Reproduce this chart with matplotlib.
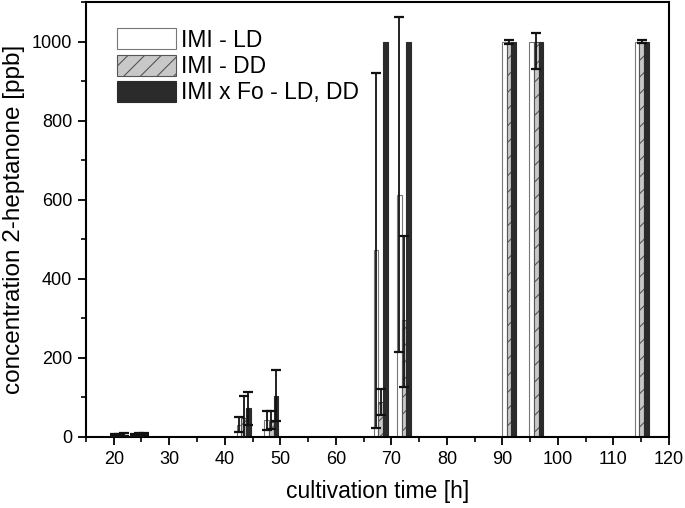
import numpy as np
import matplotlib.pyplot as plt
from matplotlib.ticker import MultipleLocator

plt.rcParams['font.family'] = ['Liberation Sans', 'DejaVu Sans']
plt.rcParams['hatch.linewidth'] = 0.8
plt.rcParams['hatch.color'] = '#333333'

# sampling times [h] (centre of each group of bars)
times = [21.0, 24.6, 43.4, 48.4, 68.1, 72.3, 91.2, 96.1, 115.1]

# IMI - LD
ld_mean = [4, 5, 30, 42, 472, 612, 1000, 1000, 1000]
ld_err_lo = [3, 3, 18, 24, 450, 397, 0, 0, 0]
ld_err_hi = [3, 3, 20, 24, 449, 451, 0, 0, 0]

# IMI - DD
dd_mean = [5, 6, 48, 38, 88, 295, 1000, 1000, 1000]
dd_err_lo = [3, 3, 50, 18, 33, 168, 5, 69, 3]
dd_err_hi = [3, 3, 55, 28, 32, 213, 5, 21, 3]

# IMI x Fo - LD, DD
fo_mean = [6, 7, 72, 103, 1000, 1000, 1000, 1000, 1000]
fo_err_lo = [3, 3, 42, 64, 0, 0, 0, 0, 0]
fo_err_hi = [3, 3, 42, 65, 0, 0, 0, 0, 0]

labels = ['IMI - LD', 'IMI - DD', 'IMI x Fo - LD, DD']

fig = plt.figure(figsize=(6.85, 5.08), dpi=100)
ax = fig.add_axes([0.1255, 0.140, 0.851, 0.856])

x = np.array(times)
w = 0.85

series = [
    (ld_mean, ld_err_lo, ld_err_hi, -w, dict(color='white', edgecolor='#777777', hatch=None)),
    (dd_mean, dd_err_lo, dd_err_hi, 0.0, dict(color='#c8c8c8', edgecolor='#555555', hatch='//')),
    (fo_mean, fo_err_lo, fo_err_hi, w, dict(color='#2b2b2b', edgecolor='#2b2b2b', hatch=None)),
]

for (mean, lo, hi, off, style), lab in zip(series, labels):
    ax.bar(x + off, mean, width=w, linewidth=0.8, label=lab, zorder=2, **style)
    lo = np.array(lo, dtype=float)
    hi = np.array(hi, dtype=float)
    mask = (lo > 0) | (hi > 0)
    ax.errorbar((x + off)[mask], np.array(mean)[mask],
                yerr=[lo[mask], hi[mask]], fmt='none', ecolor='#111111',
                elinewidth=1.3, capsize=3.5, capthick=1.6, zorder=3)

ax.set_xlim(15, 120)
ax.set_ylim(0, 1100)
ax.xaxis.set_major_locator(MultipleLocator(10))
ax.xaxis.set_minor_locator(MultipleLocator(5))
ax.yaxis.set_major_locator(MultipleLocator(200))
ax.yaxis.set_minor_locator(MultipleLocator(100))
ax.set_xticks(np.arange(20, 121, 10))
ax.tick_params(which='major', direction='out', length=6, width=1.3, labelsize=13, pad=4)
ax.tick_params(which='minor', direction='out', length=3.5, width=1.2)
for sp in ax.spines.values():
    sp.set_linewidth(1.5)

ax.set_xlabel('cultivation time [h]', fontsize=16.5, labelpad=9)
ax.set_ylabel('concentration 2-heptanone [ppb]', fontsize=17.5, labelpad=5)

ax.legend(loc='upper left', bbox_to_anchor=(0.053, 0.94), frameon=False,
          fontsize=16.5, handlelength=2.6, handleheight=1.05, labelspacing=0.13,
          handletextpad=0.2, borderpad=0, borderaxespad=0)

plt.savefig('out.png', dpi=100)
